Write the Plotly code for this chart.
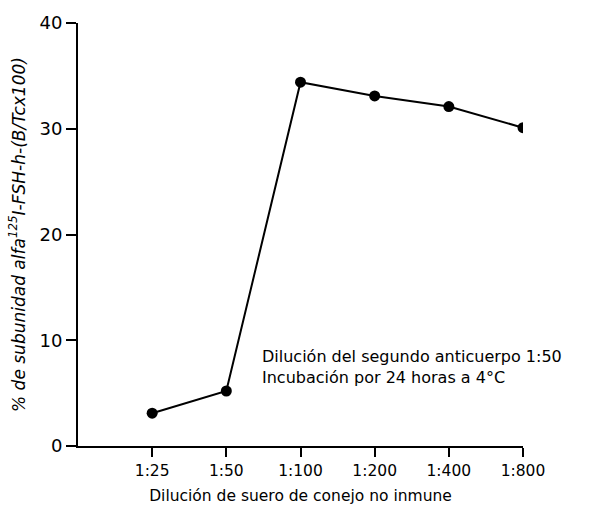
import plotly.graph_objects as go

categories = ["1:25", "1:50", "1:100", "1:200", "1:400", "1:800"]
binding_pct = [3.1, 5.2, 34.4, 33.1, 32.1, 30.1]
y_ticks = [0, 10, 20, 30, 40]

font_family = "DejaVu Sans, Arial, sans-serif"

fig = go.Figure()
fig.add_trace(go.Scatter(
    x=categories, y=binding_pct, mode="lines+markers",
    line=dict(color="black", width=2),
    marker=dict(color="black", size=11),
    showlegend=False,
))

fig.update_layout(
    width=595, height=514,
    margin=dict(l=78, r=72, t=16, b=68),
    plot_bgcolor="white", paper_bgcolor="white",
    font=dict(family=font_family, color="black", size=15),
    xaxis=dict(
        type="category", range=[-1, 5],
        showline=True, linecolor="black", linewidth=2,
        ticks="outside", ticklen=9, tickwidth=2, tickcolor="black",
        showgrid=False, zeroline=False,
        tickfont=dict(size=15.5, color="black"),
        title=dict(text="Dilución de suero de conejo no inmune",
                   font=dict(size=15.5, color="black"), standoff=12),
    ),
    yaxis=dict(
        range=[0, 40], tickvals=y_ticks,
        showline=True, linecolor="black", linewidth=2,
        ticks="outside", ticklen=10, tickwidth=2, tickcolor="black",
        showgrid=False, zeroline=False,
        tickfont=dict(size=18, color="black"),
        title=dict(text="<i>% de subunidad alfa<sup>125</sup>I-FSH-h-(B/Tcx100)</i>",
                   font=dict(size=17, color="black"), standoff=10),
    ),
)

fig.add_annotation(
    xref="paper", yref="y", x=0.41, y=7.5, xanchor="left", yanchor="middle",
    text="Dilución del segundo anticuerpo 1:50<br>Incubación por 24 horas a 4°C",
    showarrow=False, align="left", font=dict(size=16, color="black"),
)

fig.write_html("out.html")
